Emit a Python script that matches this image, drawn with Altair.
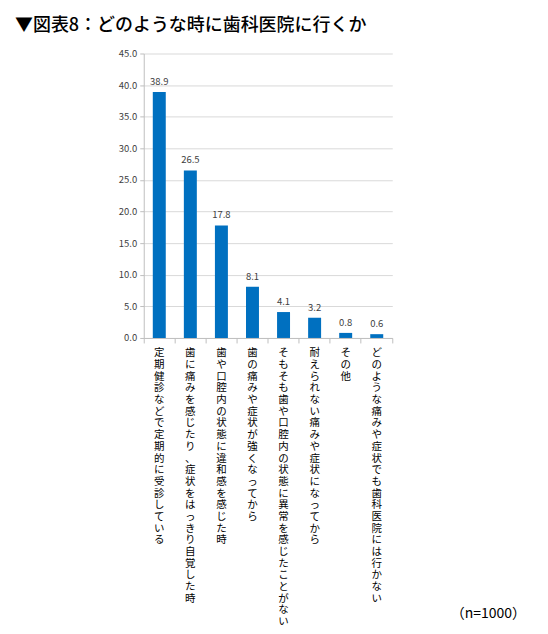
import altair as alt
import pandas as pd

categories = [
    "定期健診などで定期的に受診している",
    "歯に痛みを感じたり、症状をはっきり自覚した時",
    "歯や口腔内の状態に違和感を感じた時",
    "歯の痛みや症状が強くなってから",
    "そもそも歯や口腔内の状態に異常を感じたことがない",
    "耐えられない痛みや症状になってから",
    "その他",
    "どのような痛みや症状でも歯科医院には行かない",
]
values = [38.9, 26.5, 17.8, 8.1, 4.1, 3.2, 0.8, 0.6]
y_ticks = [0, 5, 10, 15, 20, 25, 30, 35, 40, 45]
title_text = "▼図表8：どのような時に歯科医院に行くか"
note_text = "（n=1000）"

df = pd.DataFrame({"cat": categories, "val": values})

FONT = "Noto Sans CJK JP"
x_scale = alt.Scale(paddingInner=0, paddingOuter=0)
y_enc = alt.Y(
    "val:Q",
    scale=alt.Scale(domain=[0, 45], nice=False),
    axis=alt.Axis(
        values=y_ticks, format=".1f", title=None, labelFontSize=9.5,
        labelColor="#404040", labelFont=FONT, tickSize=4, tickColor="#bfbfbf",
        domainColor="#bfbfbf", gridColor="#d9d9d9", labelPadding=3,
    ),
)

bars = alt.Chart(df).mark_bar(color="#0070C0", size=13).encode(
    x=alt.X(
        "cat:N", sort=categories, scale=x_scale,
        axis=alt.Axis(
            title=None, orient="bottom", labelAngle=0, ticks=False, domain=False,
            grid=False, labelExpr="split(datum.label, '')", labelLineHeight=11.7,
            labelFontSize=10.5, labelFont=FONT, labelColor="#000000",
            labelBaseline="top", labelAlign="center", labelPadding=10,
            labelOverlap=False, labelLimit=0,
        ),
    ),
    y=y_enc,
)

labels = alt.Chart(df).mark_text(
    baseline="bottom", dy=-5, fontSize=9.5, font=FONT, color="#404040"
).encode(
    x=alt.X(
        "cat:N", sort=categories, scale=x_scale,
        axis=alt.Axis(
            title=None, orient="bottom", labels=False, ticks=True, tickSize=5,
            bandPosition=1, tickExtra=True, domainColor="#bfbfbf",
            tickColor="#bfbfbf", grid=False,
        ),
    ),
    y=y_enc,
    text=alt.Text("val:Q", format=".1f"),
)

title = alt.Chart(pd.DataFrame({"t": [title_text]})).mark_text(
    align="left", baseline="middle", fontSize=18, font=FONT, fontWeight=500,
    color="#000000"
).encode(x=alt.value(-129), y=alt.value(-27.7), text="t:N")

note = alt.Chart(pd.DataFrame({"t": [note_text]})).mark_text(
    align="right", baseline="middle", fontSize=14, font=FONT, color="#000000"
).encode(x=alt.value(383), y=alt.value(562), text="t:N")

chart = alt.layer(bars, labels, title, note).resolve_axis(x="independent").properties(
    width=249, height=285,
    autosize=alt.AutoSizeParams(type="none"),
    padding={"left": 136, "top": 45, "right": 148, "bottom": 290},
).configure_view(stroke=None)

chart.save("out.html", embed_options={"renderer": "svg", "actions": False})
